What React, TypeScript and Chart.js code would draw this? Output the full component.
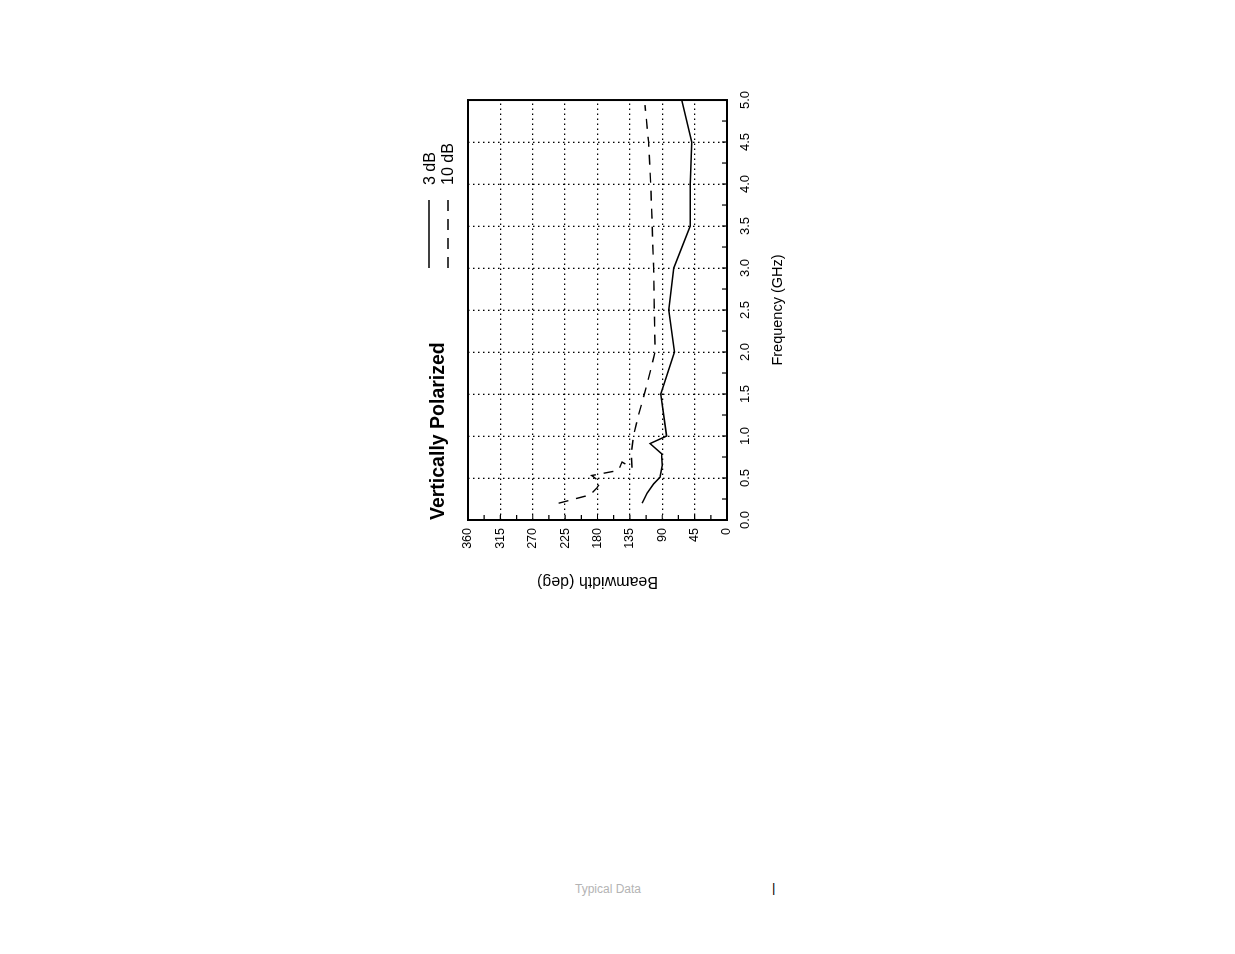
import React, { useEffect, useRef } from "react";
import { Chart, registerables } from "chart.js";

Chart.register(...registerables);

const TITLE = "Vertically Polarized";
const X_TITLE = "Frequency (GHz)";
const Y_TITLE = "Beamwidth (deg)";
const LEGEND_LABELS = ["3 dB", "10 dB"];
const FOOTER = "Typical Data";

const Y_TICK_VALUES = [0, 45, 90, 135, 180, 225, 270, 315, 360];
const Y_TICK_LABELS = ["0", "45", "90", "135", "180", "225", "270", "315", "360"];

// 3 dB beamwidth (solid)
const freq3dB = [0.2, 0.32, 0.43, 0.51, 0.65, 0.79, 0.91, 1.0, 1.5, 2.0, 2.5, 3.0, 3.5, 4.0, 4.5, 5.0];
const bw3dB = [118, 111, 102, 93, 90, 91, 107, 84, 92, 73, 81, 74, 51, 51, 49, 63];

// 10 dB beamwidth (dashed)
const freq10dB = [0.2, 0.3, 0.38, 0.45, 0.53, 0.59, 0.69, 0.62, 0.8, 1.0, 1.25, 1.62, 2.0, 2.5, 3.0, 3.5, 4.0, 4.5, 4.94];
const bw10dB = [234, 190, 181, 176, 188, 151, 146, 132, 133, 130, 123, 111, 100, 101, 102, 104, 106, 109, 114];

const FONT = 'Arial, "Liberation Sans", Helvetica, sans-serif';

const decorPlugin = {
  id: "decor",
  afterDraw(chart: any) {
    const { ctx, chartArea, scales } = chart;
    const { left, right, top, bottom } = chartArea;
    const x = scales.x;
    const y = scales.y;
    ctx.save();
    ctx.strokeStyle = "#000";
    ctx.fillStyle = "#000";
    ctx.setLineDash([]);
    ctx.lineWidth = 1.2;
    ctx.beginPath();
    for (let i = 0; i <= 20; i++) {
      const px = x.getPixelForValue(i * 0.25);
      ctx.moveTo(px, bottom);
      ctx.lineTo(px, bottom - 5);
    }
    for (let i = 0; i <= 16; i++) {
      const py = y.getPixelForValue(i * 22.5);
      ctx.moveTo(left, py);
      ctx.lineTo(left + 5, py);
    }
    ctx.stroke();
    ctx.lineWidth = 2;
    ctx.strokeRect(left, top, right - left, bottom - top);

    // title
    ctx.font = `bold 19.5px ${FONT}`;
    ctx.textBaseline = "middle";
    ctx.textAlign = "left";
    ctx.fillText(TITLE, left, 24);

    // legend
    ctx.font = `16px ${FONT}`;
    ctx.fillText(LEGEND_LABELS[0], 415, 16);
    ctx.fillText(LEGEND_LABELS[1], 415, 34);
    ctx.lineWidth = 1.3;
    ctx.beginPath();
    ctx.moveTo(332, 14);
    ctx.lineTo(400, 14);
    ctx.stroke();
    ctx.setLineDash([11, 8]);
    ctx.beginPath();
    ctx.moveTo(332, 33);
    ctx.lineTo(400, 33);
    ctx.stroke();
    ctx.restore();
  },
};

export default function App() {
  const canvasRef = useRef<HTMLCanvasElement | null>(null);

  useEffect(() => {
    if (!canvasRef.current) return;
    const pts3 = freq3dB.map((f, i) => ({ x: f, y: bw3dB[i] }));
    const pts10 = freq10dB.map((f, i) => ({ x: f, y: bw10dB[i] }));
    const chart = new Chart(canvasRef.current, {
      type: "line",
      data: {
        datasets: [
          {
            label: LEGEND_LABELS[0],
            data: pts3,
            borderColor: "#000",
            borderWidth: 1.5,
            pointRadius: 0,
            tension: 0,
            fill: false,
          },
          {
            label: LEGEND_LABELS[1],
            data: pts10,
            borderColor: "#000",
            borderWidth: 1.4,
            borderDash: [10, 8],
            pointRadius: 0,
            tension: 0,
            fill: false,
          },
        ],
      },
      options: {
        animation: false,
        responsive: false,
        devicePixelRatio: 1,
        layout: { padding: { top: 53, right: 18, left: 0, bottom: 0 } },
        plugins: { legend: { display: false }, title: { display: false }, tooltip: { enabled: false } },
        scales: {
          x: {
            type: "linear",
            min: 0,
            max: 5,
            afterFit: (s: any) => {
              s.height = 73;
            },
            ticks: {
              stepSize: 0.5,
              color: "#000",
              padding: 11,
              maxRotation: 0,
              font: { family: FONT, size: 13 },
              callback: (v: any) => Number(v).toFixed(1),
            },
            grid: { color: "#000", lineWidth: 1.3, drawTicks: false },
            border: { display: false, dash: [1.5, 3.5] },
            title: {
              display: true,
              text: X_TITLE,
              color: "#000",
              font: { family: FONT, size: 14.5 },
              padding: { top: 0, bottom: 13 },
            },
          },
          y: {
            type: "linear",
            min: 0,
            max: 360,
            afterFit: (s: any) => {
              s.width = 80;
            },
            afterBuildTicks: (s: any) => {
              s.ticks = Y_TICK_VALUES.map((v) => ({ value: v }));
            },
            ticks: {
              color: "#000",
              padding: 8,
              font: { family: FONT, size: 12.5 },
              callback: (v: any) => {
                const idx = Y_TICK_VALUES.indexOf(Number(v));
                return idx >= 0 ? Y_TICK_LABELS[idx] : "";
              },
            },
            grid: { color: "#000", lineWidth: 1.3, drawTicks: false },
            border: { display: false, dash: [1.5, 3.5] },
            title: {
              display: true,
              text: Y_TITLE,
              color: "#000",
              font: { family: FONT, size: 16 },
              padding: { top: 9, bottom: 0 },
            },
          },
        },
      },
      plugins: [decorPlugin],
    });
    return () => chart.destroy();
  }, []);

  return (
    <div>
      <div
        style={{
          position: "absolute",
          left: 415,
          top: 600,
          width: 520,
          height: 385,
          transform: "rotate(-90deg)",
          transformOrigin: "0 0",
        }}
      >
        <canvas ref={canvasRef} width={520} height={385} style={{ width: 520, height: 385, display: "block" }} />
      </div>
      <div
        style={{
          position: "absolute",
          left: 575,
          top: 882,
          fontFamily: FONT,
          fontSize: 12,
          color: "#b4b4b4",
          whiteSpace: "nowrap",
        }}
      >
        {FOOTER}
      </div>
      <div
        style={{
          position: "absolute",
          left: 772,
          top: 880,
          fontFamily: FONT,
          fontSize: 13,
          color: "#000",
        }}
      >
        |
      </div>
    </div>
  );
}
